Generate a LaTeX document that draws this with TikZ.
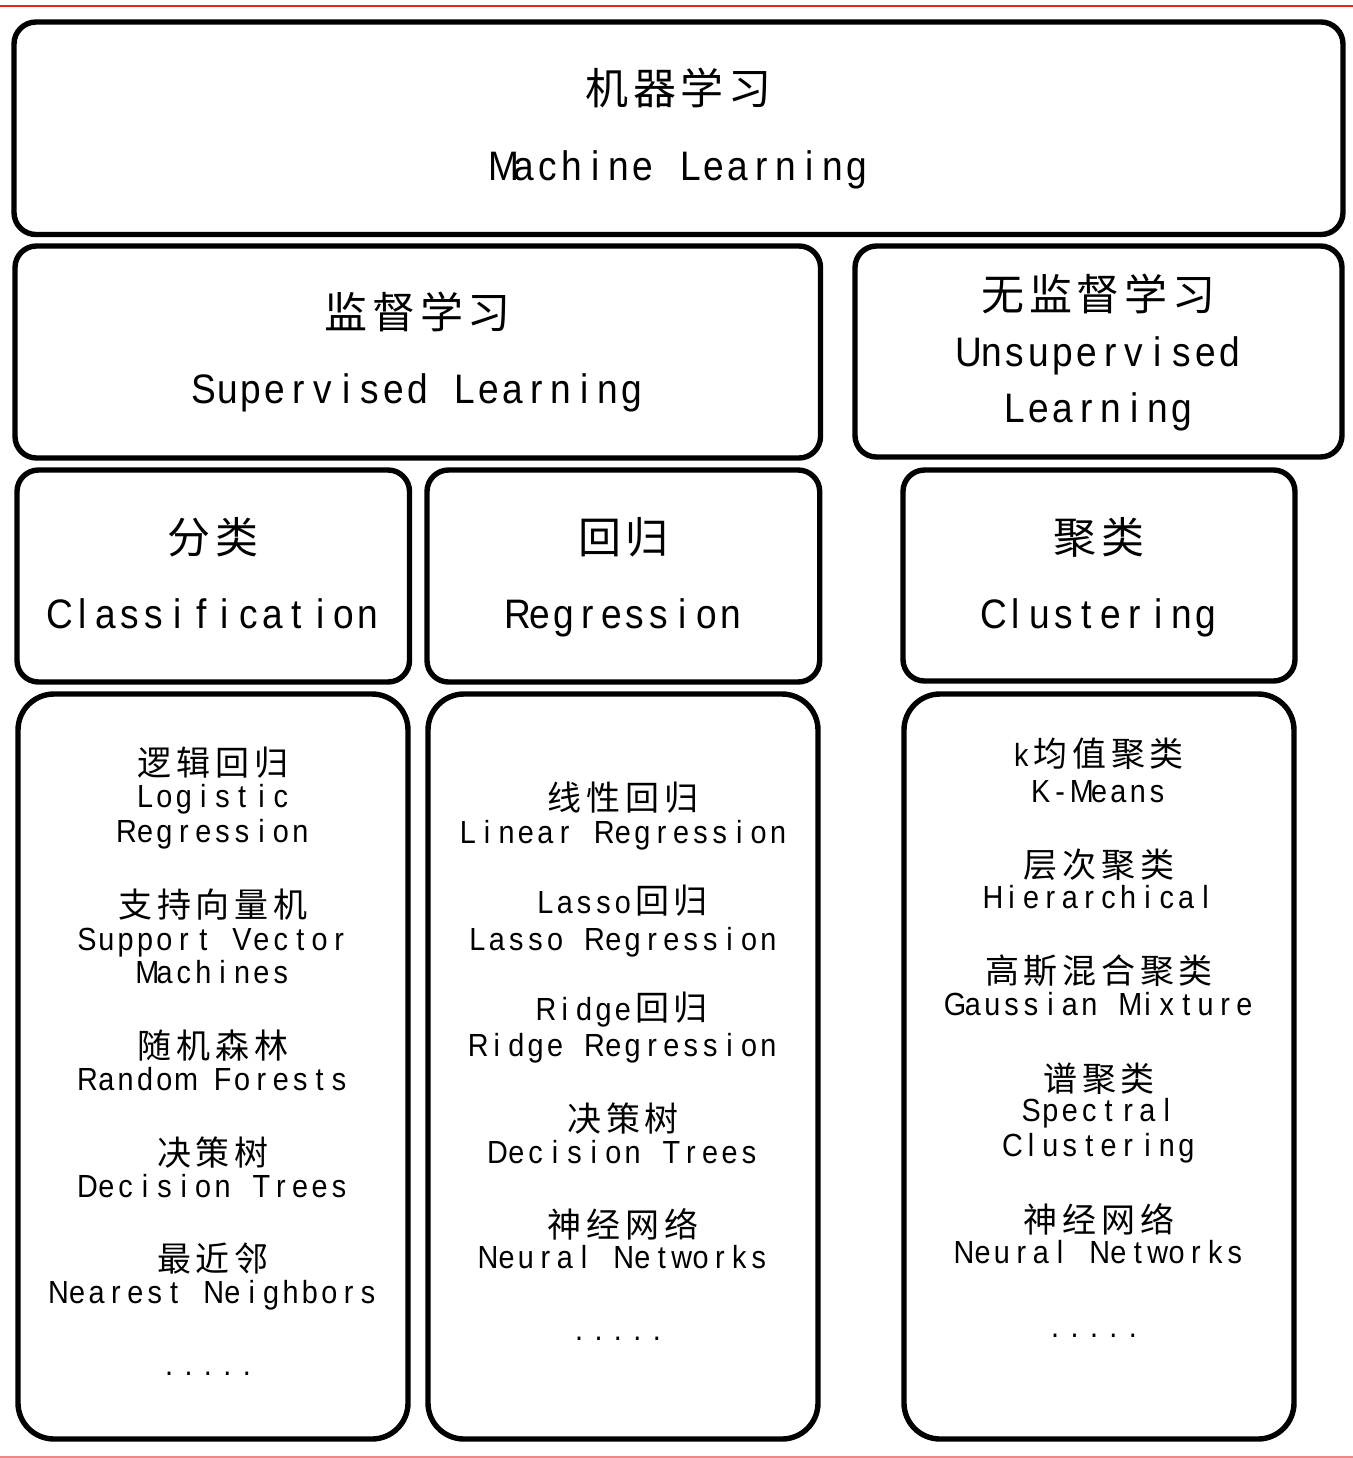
\documentclass[tikz,border=0pt]{standalone}
\usepackage{fontspec}
\setmainfont[FakeStretch=0.9]{Liberation Sans}
\newfontfamily\cjk{Noto Sans CJK SC}
\definecolor{topline}{RGB}{235,30,30}
\definecolor{botline}{RGB}{240,135,135}

\ExplSyntaxOn
\dim_new:N \l_rs_cell_dim
\cs_new_protected:Npn \rstext #1#2#3#4
{
  \dim_set:Nn \l_rs_cell_dim {#1}
  \str_map_inline:nn {#4}
   {
     \str_if_eq:nnTF {##1} {~}
       { \hbox_to_wd:nn { \l_rs_cell_dim } { } }
       {
         \int_compare:nNnTF { `##1 } > { 255 }
           { \hbox_to_wd:nn { 2 \l_rs_cell_dim } { \hfil { #3 ##1 } \hfil } }
           { \hbox_to_wd:nn { \l_rs_cell_dim } { \hfil { #2 ##1 } \hfil } }
       }
   }
}
\ExplSyntaxOff

\newcommand\hdlat{\fontsize{20.6pt}{24pt}\selectfont}
\newcommand\hdcjk{\cjk\fontsize{21.5pt}{24pt}\selectfont}
\newcommand\lilat{\fontsize{16pt}{19pt}\selectfont}
\newcommand\licjk{\cjk\fontsize{17pt}{19pt}\selectfont}
\newcommand\rshd[1]{\rstext{11.9pt}{\hdlat}{\hdcjk}{#1}}
\newcommand\rsli[1]{\rstext{9.7pt}{\lilat}{\licjk}{#1}}

\begin{document}
\begin{tikzpicture}[x=0.5pt,y=-0.5pt,
  box/.style={draw=black, line width=2.7pt, rounded corners=10.75pt, rectangle, inner sep=0pt},
  mlbox/.style={box, rounded corners=11pt},
  listbox/.style={box, rounded corners=18pt},
  hd/.style={anchor=base, inner sep=0pt},
  li/.style={anchor=base, inner sep=0pt}]
\useasboundingbox (0,0) rectangle (1353,1458);

% page border lines
\coordinate (tl) at (0,5.7);
\coordinate (tr) at (1353,5.7);
\coordinate (bl) at (0,1456.8);
\coordinate (br) at (1353,1456.8);
\draw[topline, line width=0.8pt] (tl) -- (tr);
\draw[botline, line width=0.9pt] (bl) -- (br);

% boxes
\node[mlbox, minimum width=664.5pt, minimum height=106.25pt] (ml) at (678.5,128.25) {};
\node[box, minimum width=402.75pt, minimum height=106pt] (sup) at (417.75,352) {};
\node[box, minimum width=243.5pt, minimum height=105.5pt] (uns) at (1098.5,351.5) {};
\node[box, minimum width=196.25pt, minimum height=106pt] (cls) at (213.25,576) {};
\node[box, minimum width=196.35pt, minimum height=106pt] (reg) at (623.35,576) {};
\node[box, minimum width=196pt, minimum height=105.5pt] (clu) at (1099,575.5) {};
\node[listbox, minimum width=195pt, minimum height=372.5pt] (lc) at (213,1066.5) {};
\node[listbox, minimum width=195pt, minimum height=372.5pt] (lr) at (623,1066.5) {};
\node[listbox, minimum width=195pt, minimum height=372.5pt] (lk) at (1099,1066.5) {};

% headings
\node[hd] (ml1) at (678.5,104) {\rshd{机器学习}};
\node[hd] (ml2) at (678.5,180) {\rshd{Machine Learning}};
\node[hd] (sup1) at (417.75,328) {\rshd{监督学习}};
\node[hd] (sup2) at (417.75,403) {\rshd{Supervised Learning}};
\node[hd] (uns1) at (1098.5,310) {\rshd{无监督学习}};
\node[hd] (uns2) at (1098.5,366) {\rshd{Unsupervised}};
\node[hd] (uns3) at (1098.5,422.5) {\rshd{Learning}};
\node[hd] (cls1) at (213.25,553.5) {\rshd{分类}};
\node[hd] (cls2) at (213.25,628) {\rshd{Classification}};
\node[hd] (reg1) at (623.35,553.5) {\rshd{回归}};
\node[hd] (reg2) at (623.35,628) {\rshd{Regression}};
\node[hd] (clu1) at (1099,553.5) {\rshd{聚类}};
\node[hd] (clu2) at (1099,628) {\rshd{Clustering}};

% classification list
\node[li] (c1) at (213,775) {\rsli{逻辑回归}};
\node[li] (c2) at (213,807) {\rsli{Logistic}};
\node[li] (c3) at (213,842) {\rsli{Regression}};
\node[li] (c4) at (213,917) {\rsli{支持向量机}};
\node[li] (c5) at (213,950) {\rsli{Support Vector}};
\node[li] (c6) at (213,983.5) {\rsli{Machines}};
\node[li] (c7) at (213,1058) {\rsli{随机森林}};
\node[li] (c8) at (213,1090.5) {\rsli{Random Forests}};
\node[li] (c9) at (213,1165) {\rsli{决策树}};
\node[li] (c10) at (213,1197.5) {\rsli{Decision Trees}};
\node[li] (c11) at (213,1271) {\rsli{最近邻}};
\node[li] (c12) at (213,1303.5) {\rsli{Nearest Neighbors}};
\node[li] (c13) at (208,1375) {\rsli{.....}};

% regression list
\node[li] (r1) at (623,810) {\rsli{线性回归}};
\node[li] (r2) at (623,843) {\rsli{Linear Regression}};
\node[li] (r3) at (623,913) {\rsli{Lasso回归}};
\node[li] (r4) at (623,950.5) {\rsli{Lasso Regression}};
\node[li] (r5) at (623,1020) {\rsli{Ridge回归}};
\node[li] (r6) at (623,1056.5) {\rsli{Ridge Regression}};
\node[li] (r7) at (623,1131) {\rsli{决策树}};
\node[li] (r8) at (623,1163.5) {\rsli{Decision Trees}};
\node[li] (r9) at (623,1237) {\rsli{神经网络}};
\node[li] (r10) at (623,1268.5) {\rsli{Neural Networks}};
\node[li] (r11) at (618,1340) {\rsli{.....}};

% clustering list
\node[li] (k1) at (1099,766.5) {\rsli{k均值聚类}};
\node[li] (k2) at (1099,802.5) {\rsli{K-Means}};
\node[li] (k3) at (1099,877) {\rsli{层次聚类}};
\node[li] (k4) at (1099,908.5) {\rsli{Hierarchical}};
\node[li] (k5) at (1099,983) {\rsli{高斯混合聚类}};
\node[li] (k6) at (1099,1015.5) {\rsli{Gaussian Mixture}};
\node[li] (k7) at (1099,1091) {\rsli{谱聚类}};
\node[li] (k8) at (1099,1121.5) {\rsli{Spectral}};
\node[li] (k9) at (1099,1156.5) {\rsli{Clustering}};
\node[li] (k10) at (1099,1232) {\rsli{神经网络}};
\node[li] (k11) at (1099,1263.5) {\rsli{Neural Networks}};
\node[li] (k12) at (1094,1337) {\rsli{.....}};
\end{tikzpicture}
\end{document}
